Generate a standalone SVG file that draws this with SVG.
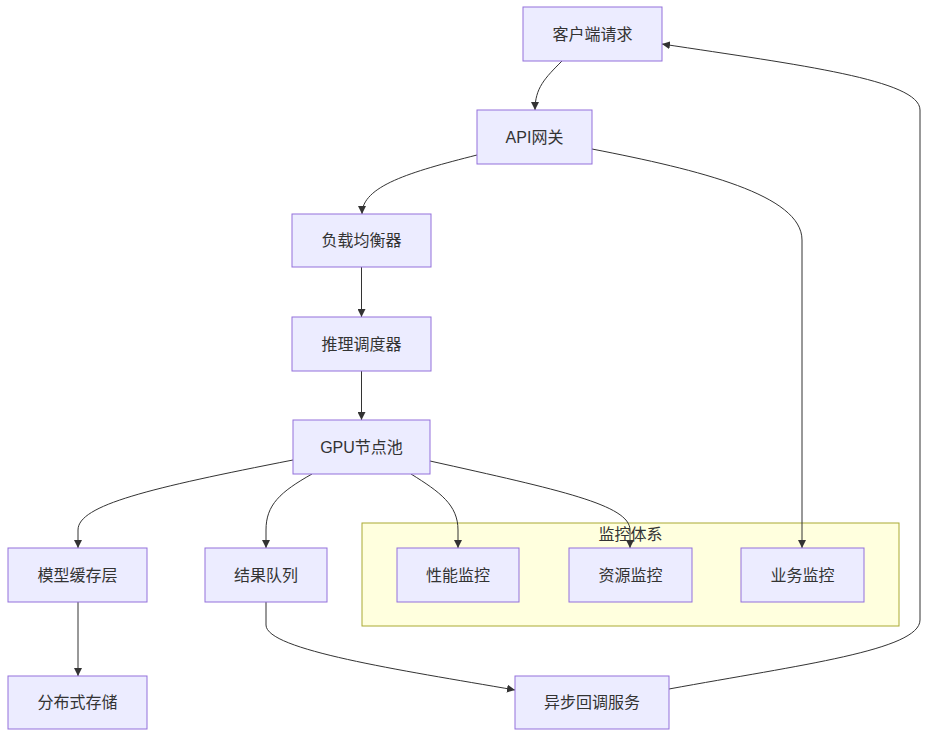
<svg xmlns="http://www.w3.org/2000/svg" width="935" height="744" viewBox="0 0 935 744">
<style>
.node rect{fill:#ECECFF;stroke:#9370DB;stroke-width:1px}
.label{font-family:"Liberation Sans","Noto Sans CJK SC",sans-serif;font-size:16px;fill:#333;text-anchor:middle;dominant-baseline:central}
.edge{fill:none;stroke:#333;stroke-width:1px}
.cluster rect{fill:#ffffde;stroke:#aaaa33;stroke-width:1px}
</style>
<defs>
<marker id="arrow" viewBox="0 0 10 10" refX="10" refY="5" markerWidth="8" markerHeight="8" markerUnits="userSpaceOnUse" orient="auto">
<path d="M0,0 L10,5 L0,10 z" fill="#333"/>
</marker>
</defs>
<rect width="935" height="744" fill="#fff"/>
<g id="cluster-monitor" class="cluster">
<rect x="362" y="523" width="537" height="103"/>
<text class="label" x="630.5" y="534">监控体系</text>
</g>
<g id="edges">
<path class="edge" d="M562,61 C545,78 535,88 535,110" marker-end="url(#arrow)"/>
<path class="edge" d="M477,155 C410,172 362,186 362,214" marker-end="url(#arrow)"/>
<path class="edge" d="M592,149 C700,170 802,195 802,240 L802,548" marker-end="url(#arrow)"/>
<path class="edge" d="M361.5,267 L361.5,317" marker-end="url(#arrow)"/>
<path class="edge" d="M361.5,371 L361.5,420" marker-end="url(#arrow)"/>
<path class="edge" d="M293,460 C150,488 78,505 78,530 L78,548" marker-end="url(#arrow)"/>
<path class="edge" d="M312,474 C280,492 266,505 266,530 L266,548" marker-end="url(#arrow)"/>
<path class="edge" d="M411,474 C440,492 458,505 458,530 L458,548" marker-end="url(#arrow)"/>
<path class="edge" d="M430,461 C560,490 630,505 630,530 L630,548" marker-end="url(#arrow)"/>
<path class="edge" d="M78,602 L78,676" marker-end="url(#arrow)"/>
<path class="edge" d="M266,602 L266,625 C266,650 400,670 515,690" marker-end="url(#arrow)"/>
<path class="edge" d="M669,689 C800,665 920,650 920,620 L920,110 C920,80 800,65 662,44" marker-end="url(#arrow)"/>
</g>
<g id="n-client" class="node"><rect x="523" y="7" width="139" height="54"/><text class="label" x="592.5" y="34">客户端请求</text></g>
<g id="n-api" class="node"><rect x="477" y="110" width="115" height="54"/><text class="label" x="534.5" y="137">API网关</text></g>
<g id="n-lb" class="node"><rect x="292" y="214" width="139" height="53"/><text class="label" x="361.5" y="240.5">负载均衡器</text></g>
<g id="n-sched" class="node"><rect x="292" y="317" width="139" height="54"/><text class="label" x="361.5" y="344">推理调度器</text></g>
<g id="n-gpu" class="node"><rect x="293" y="420" width="137" height="54"/><text class="label" x="361.5" y="447">GPU节点池</text></g>
<g id="n-cache" class="node"><rect x="8" y="548" width="139" height="54"/><text class="label" x="77.5" y="575">模型缓存层</text></g>
<g id="n-queue" class="node"><rect x="205" y="548" width="122" height="54"/><text class="label" x="266" y="575">结果队列</text></g>
<g id="n-perf" class="node"><rect x="397" y="548" width="122" height="54"/><text class="label" x="458" y="575">性能监控</text></g>
<g id="n-res" class="node"><rect x="569" y="548" width="123" height="54"/><text class="label" x="630.5" y="575">资源监控</text></g>
<g id="n-biz" class="node"><rect x="741" y="548" width="123" height="54"/><text class="label" x="802.5" y="575">业务监控</text></g>
<g id="n-storage" class="node"><rect x="8" y="676" width="139" height="53"/><text class="label" x="77.5" y="702.5">分布式存储</text></g>
<g id="n-callback" class="node"><rect x="515" y="676" width="154" height="53"/><text class="label" x="592" y="702.5">异步回调服务</text></g>
</svg>
